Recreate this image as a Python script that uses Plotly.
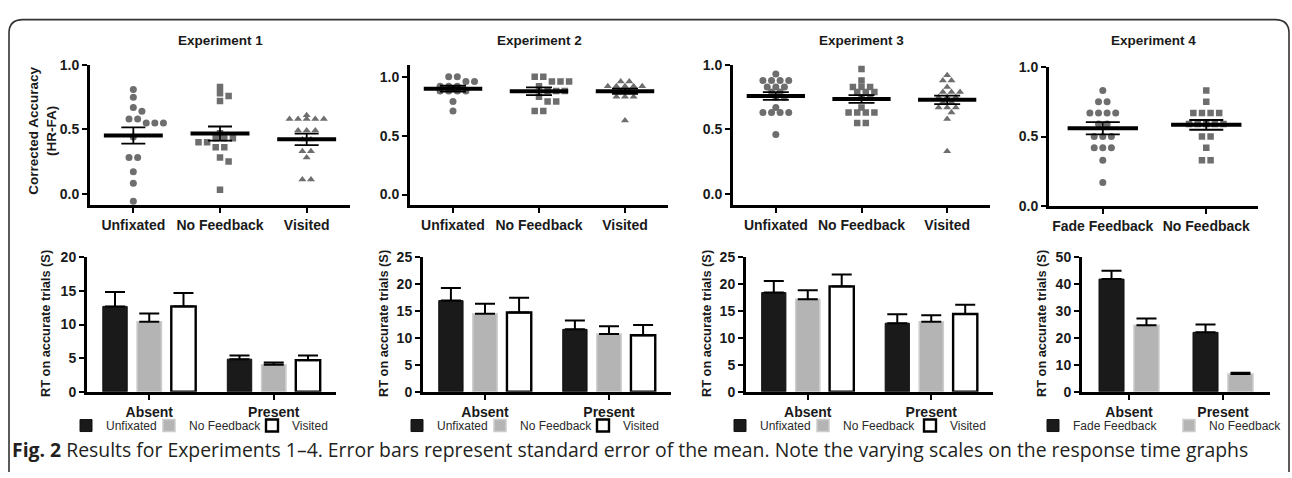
import plotly.graph_objects as go

W, H = 1292, 478

# ---------------- data ----------------
exp_titles = ["Experiment 1", "Experiment 2", "Experiment 3", "Experiment 4"]
acc_cats_123 = ["Unfixated", "No Feedback", "Visited"]
acc_cats_4 = ["Fade Feedback", "No Feedback"]
acc_ticks = [0.0, 0.5, 1.0]

# Corrected accuracy (HR-FA), individual participants
exp1_unfixated = [0.81, 0.75, 0.67, 0.64, 0.58, 0.58, 0.55, 0.55, 0.55, 0.44, 0.28, 0.28, 0.17, 0.08, -0.06]
exp1_nofeedback = [0.83, 0.78, 0.76, 0.72, 0.47, 0.43, 0.43, 0.43, 0.40, 0.40, 0.36, 0.36, 0.28, 0.25, 0.03]
exp1_visited = [0.61, 0.58, 0.58, 0.58, 0.58, 0.58, 0.49, 0.49, 0.49, 0.42, 0.42, 0.33, 0.33, 0.28, 0.11, 0.11]
exp1_acc_mean = [0.452, 0.467, 0.422]
exp1_acc_sem = [0.063, 0.055, 0.045]

exp2_unfixated = [1.0, 1.0, 0.96, 0.96, 0.92, 0.92, 0.92, 0.88, 0.88, 0.88, 0.88, 0.79, 0.71]
exp2_nofeedback = [1.0, 1.0, 0.96, 0.96, 0.96, 0.92, 0.88, 0.88, 0.88, 0.83, 0.79, 0.79, 0.71, 0.71]
exp2_visited = [0.96, 0.96, 0.92, 0.92, 0.92, 0.92, 0.92, 0.88, 0.88, 0.83, 0.83, 0.83, 0.63]
exp2_acc_mean = [0.899, 0.877, 0.877]
exp2_acc_sem = [0.025, 0.033, 0.022]

exp3_unfixated = [0.93, 0.88, 0.88, 0.88, 0.88, 0.83, 0.83, 0.83, 0.79, 0.79, 0.75, 0.75, 0.67, 0.63, 0.63, 0.63, 0.63, 0.46]
exp3_nofeedback = [0.97, 0.88, 0.83, 0.83, 0.83, 0.79, 0.79, 0.79, 0.75, 0.75, 0.67, 0.63, 0.63, 0.63, 0.63, 0.55, 0.55]
exp3_visited = [0.92, 0.88, 0.88, 0.83, 0.79, 0.79, 0.79, 0.75, 0.75, 0.75, 0.71, 0.71, 0.67, 0.67, 0.67, 0.63, 0.58, 0.33]
exp3_acc_mean = [0.759, 0.736, 0.729]
exp3_acc_sem = [0.030, 0.030, 0.033]

exp4_fadefeedback = [0.83, 0.75, 0.75, 0.67, 0.67, 0.67, 0.67, 0.59, 0.59, 0.50, 0.50, 0.50, 0.42, 0.42, 0.42, 0.33, 0.17]
exp4_nofeedback = [0.83, 0.75, 0.67, 0.67, 0.67, 0.67, 0.59, 0.59, 0.59, 0.59, 0.59, 0.50, 0.50, 0.42, 0.33, 0.33]
exp4_acc_mean = [0.560, 0.584]
exp4_acc_sem = [0.044, 0.035]

# Response times on accurate trials (s): [Absent, Present]
rt_groups = ["Absent", "Present"]
exp1_rt_unfixated = [12.7, 4.85]
exp1_rt_unfixated_sem = [2.15, 0.55]
exp1_rt_nofeedback = [10.4, 4.0]
exp1_rt_nofeedback_sem = [1.25, 0.35]
exp1_rt_visited = [12.7, 4.7]
exp1_rt_visited_sem = [2.0, 0.7]

exp2_rt_unfixated = [16.95, 11.6]
exp2_rt_unfixated_sem = [2.35, 1.65]
exp2_rt_nofeedback = [14.5, 10.75]
exp2_rt_nofeedback_sem = [1.85, 1.45]
exp2_rt_visited = [14.75, 10.5]
exp2_rt_visited_sem = [2.75, 1.9]

exp3_rt_unfixated = [18.45, 12.75]
exp3_rt_unfixated_sem = [2.15, 1.65]
exp3_rt_nofeedback = [17.2, 13.0]
exp3_rt_nofeedback_sem = [1.7, 1.25]
exp3_rt_visited = [19.6, 14.45]
exp3_rt_visited_sem = [2.2, 1.75]

exp4_rt_fadefeedback = [41.9, 22.1]
exp4_rt_fadefeedback_sem = [3.1, 2.95]
exp4_rt_nofeedback = [24.7, 6.55]
exp4_rt_nofeedback_sem = [2.5, 0.5]

rt_ticks_1 = [0, 5, 10, 15, 20]
rt_ticks_2 = [0, 5, 10, 15, 20, 25]
rt_ticks_3 = [0, 5, 10, 15, 20, 25]
rt_ticks_4 = [0, 10, 20, 30, 40, 50]

caption_bold = "Fig. 2"
caption_text = ("Results for Experiments 1–4. Error bars represent standard error of the mean. "
                "Note the varying scales on the response time graphs")

# ---------------- styling helpers ----------------
FAM = "Liberation Sans, Arial, sans-serif"
TITLE_FONT = dict(family=FAM, size=13.5, color="#1a1a1a", weight="bold")
TICK_FONT = dict(family=FAM, size=14, color="#1a1a1a", weight="bold")
PT_COLOR = "#6e6e6e"
SYMBOLS = ["circle", "square", "triangle-up"]


def fx(px):
    return px / W


def fy(py):
    return 1 - py / H


def swarm(values, ppu_x, ppu_y, step_px=8.6, d_px=6.6):
    """Beeswarm-like horizontal offsets (in axis units) for dot plot rows."""
    rows = sorted(set(values), reverse=True)
    placed = []
    offs = [0.0] * len(values)
    shifts = [0, 0.5, -0.5, 1, -1, 1.5, -1.5, 2, -2, 2.5, -2.5]
    for v in rows:
        idx = [i for i, val in enumerate(values) if val == v]
        n = len(idx)
        base = [(k - (n - 1) / 2) * step_px for k in range(n)]
        ypx = v * ppu_y
        xs = base
        for sh in shifts:
            cand = [b + sh * step_px for b in base]
            if all((x - px) ** 2 + (ypx - py) ** 2 >= d_px ** 2 for x in cand for (px, py) in placed):
                xs = cand
                break
        for i, x in zip(idx, xs):
            offs[i] = x / ppu_x
            placed.append((x, ypx))
    return offs


fig = go.Figure()
layout = dict(
    width=W, height=H, margin=dict(l=0, r=0, t=0, b=0),
    paper_bgcolor="white", plot_bgcolor="white",
    showlegend=True, barmode="overlay",
)

# ---------------- top row: dot plots ----------------
top_panels = [
    dict(px=(90, 350), py=(59, 204), xr=[-0.5, 2.5], yr=[-0.09, 1.0], cats=acc_cats_123,
         series=[exp1_unfixated, exp1_nofeedback, exp1_visited], mean=exp1_acc_mean, sem=exp1_acc_sem, cap=12),
    dict(px=(410, 668), py=(59, 204), xr=[-0.5, 2.5], yr=[-0.09, 1.1], cats=acc_cats_123,
         series=[exp2_unfixated, exp2_nofeedback, exp2_visited], mean=exp2_acc_mean, sem=exp2_acc_sem, cap=13),
    dict(px=(733, 990), py=(59, 204), xr=[-0.5, 2.5], yr=[-0.09, 1.0], cats=acc_cats_123,
         series=[exp3_unfixated, exp3_nofeedback, exp3_visited], mean=exp3_acc_mean, sem=exp3_acc_sem, cap=13),
    dict(px=(1049, 1258), py=(61, 205), xr=[-0.52, 1.5], yr=[0.0, 1.0], cats=acc_cats_4,
         series=[exp4_fadefeedback, exp4_nofeedback], mean=exp4_acc_mean, sem=exp4_acc_sem, cap=17),
]

annotations = []
for k, p in enumerate(top_panels):
    n = k + 1
    xa, ya = f"xaxis{n}", f"yaxis{n}"
    xref, yref = f"x{n}", f"y{n}"
    ppu_x = (p["px"][1] - p["px"][0]) / (p["xr"][1] - p["xr"][0])
    ppu_y = (p["py"][1] - p["py"][0]) / (p["yr"][1] - p["yr"][0])
    for ci, vals in enumerate(p["series"]):
        offs = swarm(vals, ppu_x, ppu_y)
        fig.add_trace(go.Scatter(
            x=[ci + o for o in offs], y=vals, mode="markers", xaxis=xref, yaxis=yref,
            marker=dict(symbol=SYMBOLS[ci], size=7 if ci != 1 else 6.5, color=PT_COLOR, line=dict(width=0)),
            showlegend=False, hoverinfo="skip"))
    # mean lines
    mx, my = [], []
    for ci, m in enumerate(p["mean"]):
        mx += [ci - 0.34, ci + 0.34, None]
        my += [m, m, None]
    fig.add_trace(go.Scatter(x=mx, y=my, mode="lines", xaxis=xref, yaxis=yref,
                             line=dict(color="black", width=4), showlegend=False, hoverinfo="skip"))
    # SEM bars
    fig.add_trace(go.Scatter(
        x=list(range(len(p["mean"]))), y=p["mean"], mode="markers", xaxis=xref, yaxis=yref,
        marker=dict(size=1, color="rgba(0,0,0,0)"),
        error_y=dict(type="data", array=p["sem"], color="black", thickness=1.8, width=p["cap"]),
        showlegend=False, hoverinfo="skip"))
    layout[xa] = dict(
        domain=[fx(p["px"][0]), fx(p["px"][1])], range=p["xr"], anchor=yref,
        tickvals=list(range(len(p["cats"]))), ticktext=p["cats"],
        showline=True, linewidth=3, linecolor="black", ticks="outside", ticklen=5, tickwidth=2,
        tickcolor="black", showgrid=False, zeroline=False, tickfont=TICK_FONT, fixedrange=True)
    layout[ya] = dict(
        domain=[fy(p["py"][1]), fy(p["py"][0])], range=p["yr"], anchor=xref,
        tickvals=acc_ticks, ticktext=[f"{t:.1f}" for t in acc_ticks],
        showline=True, linewidth=3, linecolor="black", ticks="outside", ticklen=5, tickwidth=2,
        tickcolor="black", showgrid=False, zeroline=False, tickfont=TICK_FONT, fixedrange=True)
    annotations.append(dict(
        text=exp_titles[k], x=fx((p["px"][0] + p["px"][1]) / 2), y=fy(34), xref="paper", yref="paper",
        xanchor="center", yanchor="middle", showarrow=False, font=TITLE_FONT))

annotations.append(dict(
    text="Corrected Accuracy<br>(HR-FA)", x=fx(43), y=fy(127), xref="paper", yref="paper",
    xanchor="center", yanchor="middle", showarrow=False, textangle=-90, font=TITLE_FONT))

# ---------------- bottom row: bar charts ----------------
BAR_STYLES = {
    "Unfixated": dict(color="#1a1a1a", line=dict(color="#111111", width=1)),
    "Fade Feedback": dict(color="#1a1a1a", line=dict(color="#111111", width=1)),
    "No Feedback": dict(color="#b4b4b4", line=dict(color="#cdcdcd", width=1.5)),
    "Visited": dict(color="white", line=dict(color="black", width=2.4)),
}

bottom_panels = [
    dict(px=(87, 336), ticks=rt_ticks_1, slot=0.275, bw=0.196, leg_x=[66, 149, 252],
         conds=["Unfixated", "No Feedback", "Visited"],
         vals=[exp1_rt_unfixated, exp1_rt_nofeedback, exp1_rt_visited],
         sems=[exp1_rt_unfixated_sem, exp1_rt_nofeedback_sem, exp1_rt_visited_sem]),
    dict(px=(423, 671), ticks=rt_ticks_2, slot=0.275, bw=0.196, leg_x=[397, 480, 583],
         conds=["Unfixated", "No Feedback", "Visited"],
         vals=[exp2_rt_unfixated, exp2_rt_nofeedback, exp2_rt_visited],
         sems=[exp2_rt_unfixated_sem, exp2_rt_nofeedback_sem, exp2_rt_visited_sem]),
    dict(px=(746, 993), ticks=rt_ticks_3, slot=0.275, bw=0.196, leg_x=[720, 803, 910],
         conds=["Unfixated", "No Feedback", "Visited"],
         vals=[exp3_rt_unfixated, exp3_rt_nofeedback, exp3_rt_visited],
         sems=[exp3_rt_unfixated_sem, exp3_rt_nofeedback_sem, exp3_rt_visited_sem]),
    dict(px=(1082, 1270), ticks=rt_ticks_4, slot=0.372, bw=0.266, leg_x=[1033, 1169],
         conds=["Fade Feedback", "No Feedback"],
         vals=[exp4_rt_fadefeedback, exp4_rt_nofeedback],
         sems=[exp4_rt_fadefeedback_sem, exp4_rt_nofeedback_sem]),
]
rt_title_x = [45, 383, 706, 1041]
BOT_PY = (258, 397)
LEG_FONT = dict(family=FAM, size=12, color="#2a2a2a")

leg_count = 0
for k, p in enumerate(bottom_panels):
    n = k + 5
    xa, ya = f"xaxis{n}", f"yaxis{n}"
    xref, yref = f"x{n}", f"y{n}"
    nb = len(p["conds"])
    for ci, cond in enumerate(p["conds"]):
        leg_count += 1
        legname = "legend" if leg_count == 1 else f"legend{leg_count}"
        off = (ci - (nb - 1) / 2) * p["slot"] - p["bw"] / 2
        fig.add_trace(go.Bar(
            x=list(range(len(rt_groups))), y=p["vals"][ci], name=cond, xaxis=xref, yaxis=yref,
            offset=off, width=p["bw"], marker=BAR_STYLES[cond],
            error_y=dict(type="data", symmetric=False, array=p["sems"][ci], arrayminus=[0] * len(rt_groups),
                         color="black", thickness=2, width=10),
            legend=legname, showlegend=True, hoverinfo="skip"))
        layout[legname] = dict(
            orientation="h", x=fx(p["leg_x"][ci]), y=fy(432), xanchor="left", yanchor="middle",
            font=LEG_FONT, bgcolor="rgba(0,0,0,0)", itemwidth=30, tracegroupgap=0,
            itemclick=False, itemdoubleclick=False)
    layout[xa] = dict(
        domain=[fx(p["px"][0]), fx(p["px"][1])], range=[-0.5, 1.5], anchor=yref,
        tickvals=list(range(len(rt_groups))), ticktext=rt_groups,
        showline=True, linewidth=3, linecolor="black", ticks="outside", ticklen=5, tickwidth=2,
        tickcolor="black", showgrid=False, zeroline=False, tickfont=TICK_FONT, fixedrange=True)
    layout[ya] = dict(
        domain=[fy(BOT_PY[1]), fy(BOT_PY[0])], range=[p["ticks"][0], p["ticks"][-1]], anchor=xref,
        tickvals=p["ticks"], ticktext=[str(t) for t in p["ticks"]],
        showline=True, linewidth=3, linecolor="black", ticks="outside", ticklen=5, tickwidth=2,
        tickcolor="black", showgrid=False, zeroline=False, tickfont=TICK_FONT, fixedrange=True)
    annotations.append(dict(
        text="RT on accurate trials (S)", x=fx(rt_title_x[k]), y=fy(327), xref="paper", yref="paper",
        xanchor="center", yanchor="middle", showarrow=False, textangle=-90,
        font=dict(TITLE_FONT, size=12.8)))

# caption
annotations.append(dict(
    text=f"<b>{caption_bold}</b> {caption_text}", x=fx(10), y=fy(457), xref="paper", yref="paper",
    xanchor="left", yanchor="middle", showarrow=False,
    font=dict(family="Open Sans, Noto Sans, sans-serif", size=19.4, color="#231f20")))

# frame (rounded top corners, open bottom)
L, R, T, B, r = 9, 1289, 12, 480, 14
path = (f"M {fx(L)},{fy(B)} L {fx(L)},{fy(T + r)} Q {fx(L)},{fy(T)} {fx(L + r)},{fy(T)} "
        f"L {fx(R - r)},{fy(T)} Q {fx(R)},{fy(T)} {fx(R)},{fy(T + r)} L {fx(R)},{fy(B)}")
layout["shapes"] = [dict(type="path", path=path, xref="paper", yref="paper",
                         line=dict(color="#333333", width=1.6))]
layout["annotations"] = annotations

fig.update_layout(**layout)
fig.write_html("out.html", config={"displayModeBar": False},
               post_script="document.body.style.margin='0px';")
